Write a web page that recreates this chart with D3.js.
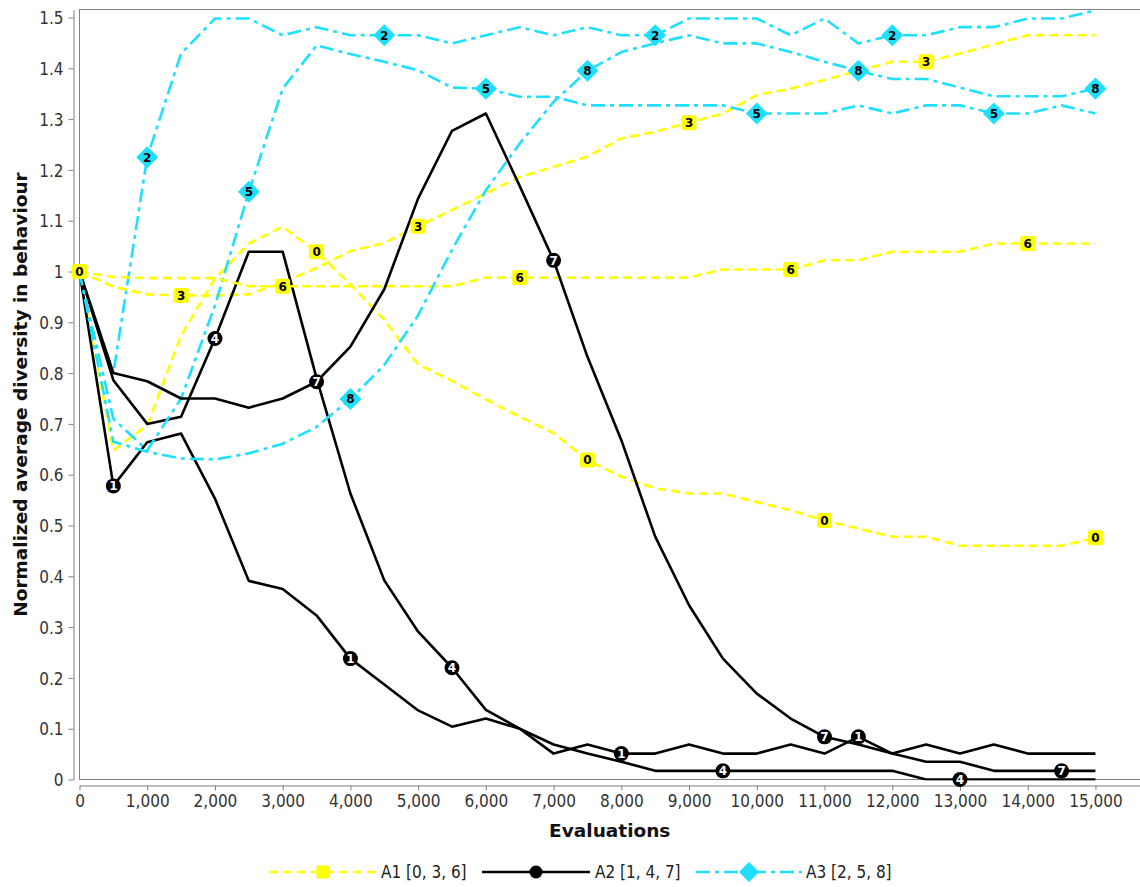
<!DOCTYPE html>
<html>
<head>
<meta charset="utf-8">
<script src="https://cdn.jsdelivr.net/npm/d3@7"></script>
<style>
  html, body { margin: 0; padding: 0; background: #fff; }
  svg { display: block; }
  .tick text, .legend text { font-family: "DejaVu Sans Condensed", "DejaVu Sans", sans-serif; font-stretch: condensed; }
</style>
</head>
<body>
<svg id="chart" width="1140" height="887"></svg>
<script>
// ---------- DATA ----------
const evaluations = [0,500,1000,1500,2000,2500,3000,3500,4000,4500,5000,5500,6000,6500,7000,7500,
  8000,8500,9000,9500,10000,10500,11000,11500,12000,12500,13000,13500,14000,14500,15000];

const s0 = [1.0,0.648,0.697,0.874,0.986,1.055,1.088,1.039,0.975,0.905,0.817,0.785,0.748,0.714,0.682,0.629,
  0.596,0.573,0.563,0.563,0.546,0.530,0.510,0.494,0.478,0.478,0.460,0.460,0.460,0.460,0.476];
const s3 = [1.0,0.970,0.955,0.953,0.953,0.955,0.978,1.007,1.040,1.056,1.089,1.121,1.154,1.186,1.206,1.226,
  1.262,1.275,1.293,1.311,1.347,1.360,1.377,1.395,1.413,1.413,1.429,1.447,1.465,1.465,1.465];
const s6 = [1.0,0.989,0.987,0.987,0.987,0.971,0.971,0.971,0.971,0.971,0.971,0.971,0.988,0.988,0.988,0.988,
  0.988,0.988,0.988,1.004,1.004,1.004,1.022,1.022,1.039,1.039,1.039,1.055,1.055,1.055,1.055];

const s1 = [1.0,0.578,0.664,0.681,0.553,0.391,0.375,0.323,0.238,0.187,0.136,0.104,0.120,0.100,0.051,0.069,
  0.051,0.051,0.069,0.051,0.051,0.069,0.051,0.084,0.051,0.069,0.051,0.069,0.051,0.051,0.051];
const s4 = [1.0,0.786,0.700,0.714,0.868,1.039,1.039,0.790,0.563,0.392,0.291,0.220,0.137,0.100,0.069,0.051,
  0.035,0.017,0.017,0.017,0.017,0.017,0.017,0.017,0.017,0.0,0.0,0.0,0.0,0.0,0.0];
const s7 = [1.0,0.800,0.784,0.750,0.750,0.732,0.750,0.783,0.852,0.965,1.144,1.277,1.311,1.168,1.022,0.832,
  0.668,0.478,0.343,0.238,0.169,0.120,0.084,0.069,0.051,0.035,0.035,0.017,0.017,0.017,0.017];

const s2 = [1.0,0.800,1.225,1.429,1.498,1.498,1.465,1.481,1.465,1.465,1.465,1.449,1.465,1.481,1.465,1.481,
  1.465,1.465,1.498,1.498,1.498,1.465,1.498,1.449,1.465,1.465,1.481,1.481,1.498,1.498,1.514];
const s5 = [1.0,0.710,0.648,0.750,0.933,1.157,1.360,1.445,1.428,1.413,1.396,1.362,1.360,1.344,1.344,1.327,
  1.327,1.327,1.327,1.327,1.311,1.311,1.311,1.327,1.311,1.327,1.327,1.311,1.311,1.327,1.311];
const s8 = [1.0,0.665,0.645,0.632,0.630,0.642,0.661,0.694,0.749,0.816,0.914,1.043,1.160,1.252,1.334,1.395,
  1.432,1.449,1.465,1.449,1.449,1.432,1.413,1.395,1.379,1.379,1.362,1.345,1.345,1.345,1.360];

// indices (into evaluations) where the numbered markers sit
const markerIdx = [
  [0,7,15,22,30], [1,8,16,23], [2,9,17,24], [3,10,18,25], [4,11,19,26],
  [5,12,20,27], [6,13,21,28], [7,14,22,29], [8,15,23,30]
];

const seriesValues = [s0, s1, s2, s3, s4, s5, s6, s7, s8];
const seriesGroup = [0, 1, 2, 0, 1, 2, 0, 1, 2];   // 0 = A1, 1 = A2, 2 = A3
const groupNames = ["A1 [0, 3, 6]", "A2 [1, 4, 7]", "A3 [2, 5, 8]"];

const yTicks = [0,0.1,0.2,0.3,0.4,0.5,0.6,0.7,0.8,0.9,1.0,1.1,1.2,1.3,1.4,1.5];
const xTicks = [0,1000,2000,3000,4000,5000,6000,7000,8000,9000,10000,11000,12000,13000,14000,15000];

const xTitle = "Evaluations";
const yTitle = "Normalized average diversity in behaviour";

// ---------- STYLE ----------
const groupStyle = [
  { color: "#FFFF00", width: 2.6, dash: "9,5", marker: "square", text: "#000" },
  { color: "#000000", width: 2.6, dash: null, marker: "circle", text: "#fff" },
  { color: "#1FDFFF", width: 2.6, dash: "14,5,4,5", marker: "diamond", text: "#000" }
];

// ---------- LAYOUT ----------
const plotL = 79.5, plotT = 9.5, plotB = 779.5, plotR = 1140;
const pxPerUnitY = 508;       // pixels per 1.0
const pxPer1000 = 67.73;

const svg = d3.select("#chart");

const x = d3.scaleLinear()
  .domain([0, (plotR - plotL) / pxPer1000 * 1000])
  .range([plotL, plotR]);
const y = d3.scaleLinear()
  .domain([0, (plotB - plotT) / pxPerUnitY])
  .range([plotB, plotT]);

// clip
svg.append("defs").append("clipPath").attr("id", "clip")
  .append("rect").attr("x", plotL).attr("y", plotT).attr("width", plotR - plotL + 5).attr("height", plotB - plotT + 1);

// frame
svg.append("rect")
  .attr("x", plotL).attr("y", plotT)
  .attr("width", plotR - plotL + 10).attr("height", plotB - plotT)
  .attr("fill", "none").attr("stroke", "#808080").attr("stroke-width", 1);

// axes
const fmtY = d => (Math.round(d * 10) / 10).toString();
const yAxis = d3.axisLeft(y).tickValues(yTicks).tickFormat(fmtY).tickSize(5).tickSizeOuter(0).tickPadding(5);
const xAxis = d3.axisBottom(x).tickValues(xTicks).tickFormat(d3.format(",")).tickSize(5).tickSizeOuter(0).tickPadding(4);

const gy = svg.append("g").attr("transform", "translate(73.5,0)").call(yAxis);
const gx = svg.append("g").attr("transform", "translate(0,785.5)").call(xAxis);
[gx, gy].forEach(g => {
  g.select(".domain").attr("stroke", "#808080");
  g.selectAll(".tick line").attr("stroke", "#808080");
  g.selectAll(".tick text").attr("fill", "#333").style("font-size", "17px");
});
gy.selectAll(".tick text").attr("dy", "0.36em");

// axis titles
svg.append("text")
  .attr("x", (plotL + plotR) / 2).attr("y", 837)
  .attr("text-anchor", "middle")
  .style("font-family", "'DejaVu Sans', sans-serif").style("font-weight", "bold").style("font-size", "18.5px")
  .attr("fill", "#111")
  .text(xTitle);
svg.append("text")
  .attr("transform", `translate(27,${(plotT + plotB) / 2}) rotate(-90)`)
  .attr("text-anchor", "middle")
  .style("font-family", "'DejaVu Sans', sans-serif").style("font-weight", "bold").style("font-size", "18.5px")
  .attr("fill", "#111")
  .text(yTitle);

// lines
const plot = svg.append("g").attr("clip-path", "url(#clip)");
const line = d3.line().x((d, i) => x(evaluations[i])).y(d => y(d));

seriesValues.forEach((vals, si) => {
  const st = groupStyle[seriesGroup[si]];
  plot.append("path")
    .attr("d", line(vals))
    .attr("fill", "none")
    .attr("stroke", st.color)
    .attr("stroke-width", st.width)
    .attr("stroke-dasharray", st.dash)
    .attr("stroke-linejoin", "round");
});

// markers
function drawMarker(g, kind, cx, cy, color, big) {
  if (kind === "square") {
    const s = big ? 15 : 13;
    g.append("rect").attr("x", cx - s / 2).attr("y", cy - s / 2).attr("width", s).attr("height", s)
      .attr("rx", 2).attr("fill", color);
  } else if (kind === "circle") {
    g.append("circle").attr("cx", cx).attr("cy", cy).attr("r", big ? 7.5 : 6.5).attr("fill", color);
  } else {
    const h = big ? 10 : 9;
    g.append("path").attr("d", `M${cx},${cy - h}L${cx + h},${cy}L${cx},${cy + h}L${cx - h},${cy}Z`)
      .attr("fill", color).attr("stroke", color).attr("stroke-linejoin", "round").attr("stroke-width", 1.5);
  }
}

const mk = svg.append("g");
seriesValues.forEach((vals, si) => {
  const st = groupStyle[seriesGroup[si]];
  markerIdx[si].forEach(i => {
    const cx = x(evaluations[i]), cy = y(vals[i]);
    drawMarker(mk, st.marker, cx, cy, st.color, true);
    mk.append("text")
      .attr("x", cx).attr("y", cy).attr("dy", "0.36em")
      .attr("text-anchor", "middle")
      .style("font-family", "'DejaVu Sans', sans-serif").style("font-weight", "bold").style("font-size", "12px")
      .attr("fill", st.text)
      .text(si);
  });
});

// legend
const legendY = 872;
const legendItems = [
  { x0: 269, x1: 377, tx: 381 },
  { x0: 482, x1: 590, tx: 595 },
  { x0: 696, x1: 802, tx: 806 }
];
const lg = svg.append("g").attr("class", "legend");
groupNames.forEach((name, gi) => {
  const st = groupStyle[gi];
  const it = legendItems[gi];
  lg.append("line").attr("x1", it.x0).attr("x2", it.x1).attr("y1", legendY).attr("y2", legendY)
    .attr("stroke", st.color).attr("stroke-width", st.width).attr("stroke-dasharray", st.dash);
  drawMarker(lg, st.marker, (it.x0 + it.x1) / 2, legendY, st.color, false);
  lg.append("text").attr("x", it.tx).attr("y", legendY).attr("dy", "0.36em")
    .style("font-size", "17px").attr("fill", "#222").text(name);
});
</script>
</body>
</html>
